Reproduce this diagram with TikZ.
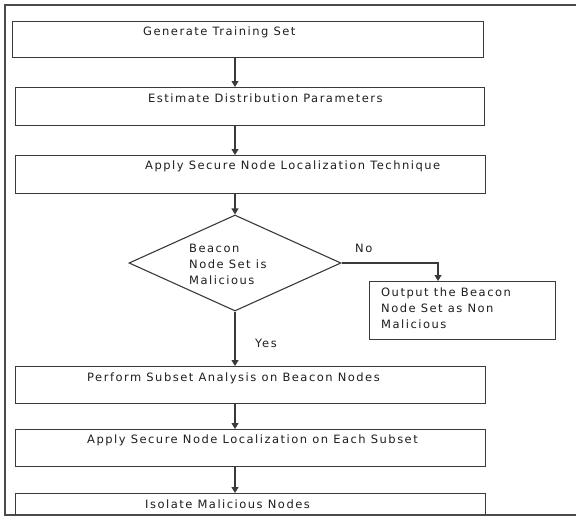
\documentclass[tikz,border=0pt]{standalone}
\usepackage{fontspec}
\setmainfont{DejaVu Sans}[LetterSpace=13]
\usetikzlibrary{shapes.geometric,arrows.meta}
\definecolor{linegray}{HTML}{3A3A3A}
\definecolor{framegray}{HTML}{4A4A4A}
\definecolor{textc}{HTML}{1E1E1E}
\begin{document}
\begin{tikzpicture}[x=1pt,y=-1pt,
  box/.style={draw=linegray,line width=1.1pt,inner sep=0pt,anchor=north west},
  dec/.style={draw=linegray,line width=1.1pt,diamond,inner sep=0pt,minimum width=212pt,minimum height=96pt},
  txt/.style={font=\fontsize{11.5}{16}\selectfont,text=textc,inner sep=0pt,anchor=west,align=left},
  arr/.style={draw=linegray,line width=1.1pt,-{Triangle[width=7pt,length=6pt]}},
  frame/.style={draw=framegray,line width=1.3pt}
]
\useasboundingbox (0,0) rectangle (576,517);
\fill[white] (0,0) rectangle (576,517);

% frame
\draw[frame] (576,5) -- (5,5) -- (5,515) -- (576,515);

\coordinate (spine) at (235,0);
\coordinate (noX) at (438,0);

% boxes
\node[box,minimum width=471pt,minimum height=36pt] (b1) at (12,21) {};
\node[box,minimum width=469pt,minimum height=38pt] (b2) at (15,87) {};
\node[box,minimum width=470pt,minimum height=38pt] (b3) at (15,155) {};
\node[dec] (d) at (235,263) {};
\node[box,minimum width=186pt,minimum height=58pt] (out) at (369,281) {};
\node[box,minimum width=470pt,minimum height=37pt] (b4) at (15,366) {};
\node[box,minimum width=470pt,minimum height=37pt] (b5) at (15,429) {};
\begin{scope}
\clip (0,0) rectangle (576,514.3);
\node[box,minimum width=470pt,minimum height=40pt] (b6) at (15,493) {};
\end{scope}

% texts
\node[txt] (t1) at (143,32) {Generate Training Set};
\node[txt] (t2) at (148,98) {Estimate Distribution Parameters};
\node[txt] (t3) at (145,166) {Apply Secure Node Localization Technique};
\node[txt] (td) at (189,264) {Beacon\\Node Set is\\Malicious};
\node[txt] (tout) at (381,308) {Output the Beacon\\Node Set as Non\\Malicious};
\node[txt] (t4) at (87,378) {Perform Subset Analysis on Beacon Nodes};
\node[txt] (t5) at (87,440) {Apply Secure Node Localization on Each Subset};
\node[txt] (t6) at (145,504) {Isolate Malicious Nodes};
\node[txt] (no) at (355,248) {No};
\node[txt] (yes) at (255,343) {Yes};

% connectors
\draw[arr] (b1.south -| spine) -- (b2.north -| spine);
\draw[arr] (b2.south -| spine) -- (b3.north -| spine);
\draw[arr] (b3.south -| spine) -- (d.north);
\draw[arr] (d.east) -| (noX |- out.north);
\draw[arr] (d.south) -- (b4.north -| spine);
\draw[arr] (b4.south -| spine) -- (b5.north -| spine);
\draw[arr] (b5.south -| spine) -- (b6.north -| spine);
\end{tikzpicture}
\end{document}
